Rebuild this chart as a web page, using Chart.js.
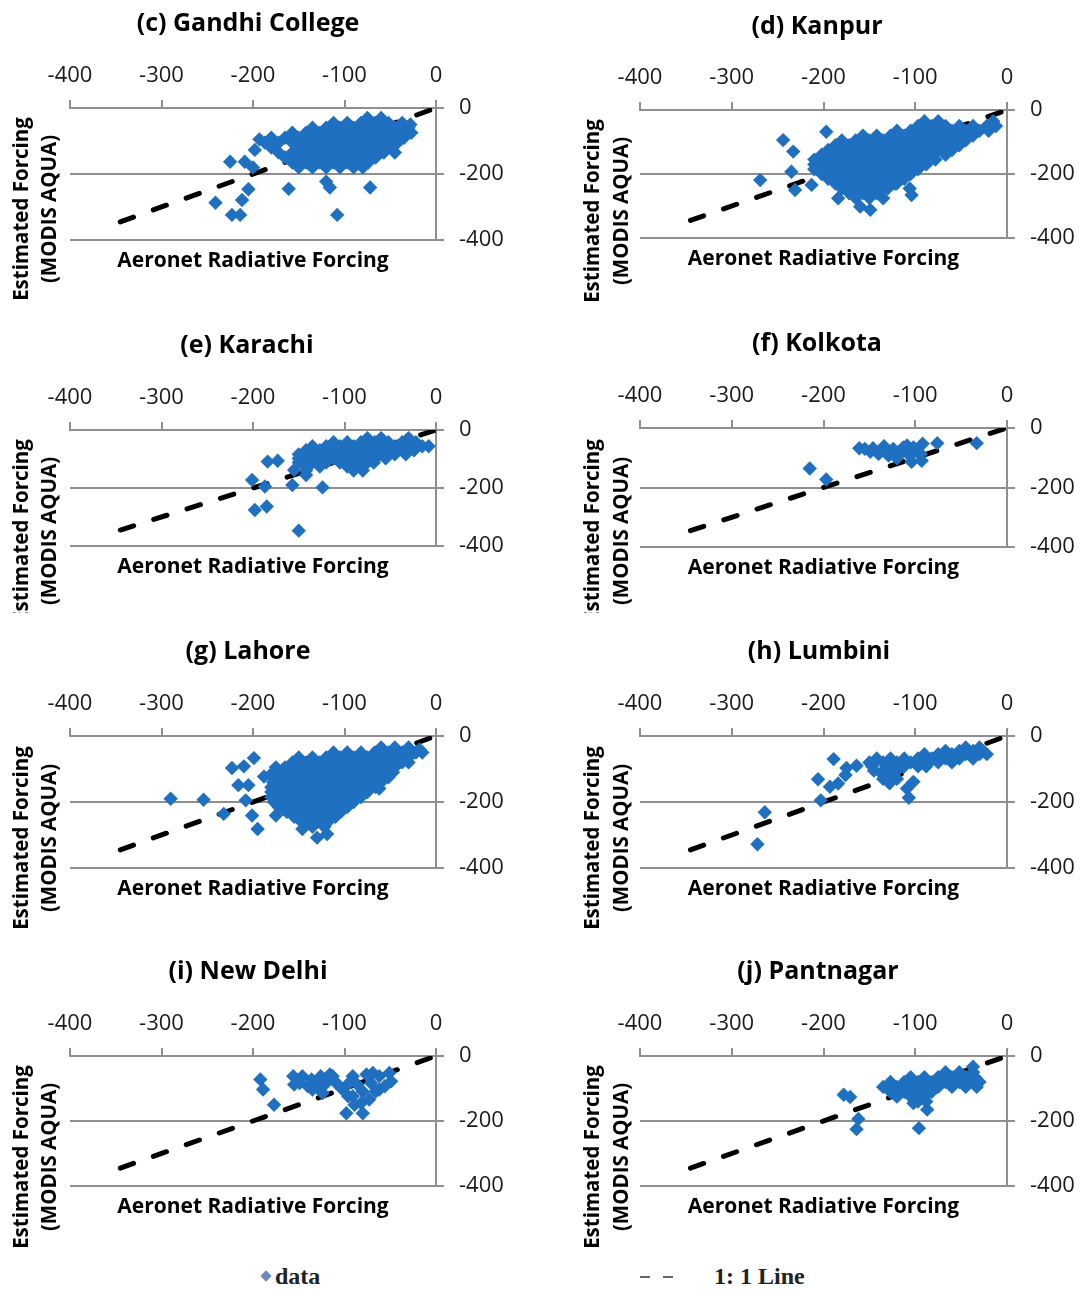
<!DOCTYPE html>
<html>
<head>
<meta charset="utf-8">
<title>Estimated vs Aeronet radiative forcing</title>
<script src="https://cdn.jsdelivr.net/npm/chart.js@4.4.1/dist/chart.umd.min.js"></script>
<style>
  html, body { margin: 0; padding: 0; background: #fff; }
  body { position: relative; width: 1085px; height: 1289px; overflow: hidden; }
  canvas.panel { position: absolute; }
  .legend { position: absolute; top: 1261px; font-family: "Liberation Serif", serif; font-weight: bold;
            font-size: 24px; color: #222; line-height: 30px; white-space: nowrap; }
  .legend .diamond { position: absolute; left: -13px; top: 11px; width: 8px; height: 8px;
                     background: #6d8cbc; transform: rotate(45deg); }
  .legend .dash { position: absolute; top: 15px; width: 10px; height: 2px; background: #666; }
</style>
</head>
<body>
<div class="legend" style="left:275px"><span class="diamond"></span>data</div>
<div class="legend" style="left:714px"><span class="dash" style="left:-74px"></span><span class="dash" style="left:-51px"></span>1: 1 Line</div>
<script>
// ---- axis ticks and labels ----
const xTickValues = [-400, -300, -200, -100, 0];
const yTickValues = [-400, -200, 0];
const xAxisTitle = 'Aeronet Radiative Forcing';
const yAxisTitle = ['Estimated Forcing', '(MODIS AQUA)'];

// 1:1 reference line (Aeronet = MODIS)
const oneToOneLine = [[-345, -345], [0, 0]];

// ---- [Aeronet forcing, MODIS AQUA forcing] pairs per site (W/m²) ----
const gandhiCollege = [
  [-75,-30],[-60,-30],
  [-112,-45],[-97,-45],[-82,-45],[-67,-45],[-52,-45],[-37,-45],
  [-135,-60],[-120,-60],[-105,-60],[-90,-60],[-75,-60],[-60,-60],[-45,-60],[-30,-60],
  [-157,-75],[-142,-75],[-127,-75],[-112,-75],[-97,-75],[-82,-75],[-67,-75],[-52,-75],[-37,-75],[-27,-75],
  [-180,-90],[-165,-90],[-150,-90],[-135,-90],[-120,-90],[-105,-90],[-90,-90],[-75,-90],[-60,-90],[-45,-90],[-35,-90],
  [-187,-105],[-172,-105],[-157,-105],[-142,-105],[-127,-105],[-112,-105],[-97,-105],[-82,-105],[-67,-105],[-52,-105],[-42,-105],
  [-180,-120],[-150,-120],[-135,-120],[-120,-120],[-105,-120],[-90,-120],[-75,-120],[-60,-120],[-48,-120],
  [-172,-135],[-157,-135],[-142,-135],[-127,-135],[-112,-135],[-97,-135],[-82,-135],[-67,-135],[-57,-135],
  [-165,-150],[-150,-150],[-135,-150],[-120,-150],[-105,-150],[-90,-150],[-75,-150],[-66,-150],
  [-157,-165],[-142,-165],[-127,-165],[-112,-165],[-97,-165],[-82,-165],[-74,-165],
  [-150,-180],[-135,-180],[-120,-180],[-105,-180],[-90,-180],[-80,-180],
  [-193,-95],[-198,-127],[-225,-163],[-209,-163],[-200,-180],[-205,-246],[-241,-287],[-212,-279],
  [-223,-324],[-214,-324],[-161,-245],[-120,-223],[-116,-241],[-72,-241],[-108,-324],[-45,-135],[-32,-77],[-28,-50]
];

const kanpur = [
  [-90,-35],[-75,-35],[-15,-35],
  [-97,-50],[-82,-50],[-67,-50],[-52,-50],[-37,-50],[-22,-50],[-12,-50],
  [-120,-65],[-105,-65],[-90,-65],[-75,-65],[-60,-65],[-45,-65],[-30,-65],[-20,-65],
  [-157,-80],[-142,-80],[-127,-80],[-112,-80],[-97,-80],[-82,-80],[-67,-80],[-52,-80],[-37,-80],
  [-180,-95],[-165,-95],[-150,-95],[-135,-95],[-120,-95],[-105,-95],[-90,-95],[-75,-95],[-60,-95],[-45,-95],
  [-187,-110],[-172,-110],[-157,-110],[-142,-110],[-127,-110],[-112,-110],[-97,-110],[-82,-110],[-67,-110],[-52,-110],
  [-195,-125],[-180,-125],[-165,-125],[-150,-125],[-135,-125],[-120,-125],[-105,-125],[-90,-125],[-75,-125],[-60,-125],
  [-202,-140],[-187,-140],[-172,-140],[-157,-140],[-142,-140],[-127,-140],[-112,-140],[-97,-140],[-82,-140],[-67,-140],
  [-210,-155],[-195,-155],[-180,-155],[-165,-155],[-150,-155],[-135,-155],[-120,-155],[-105,-155],[-90,-155],[-78,-155],
  [-210,-170],[-202,-170],[-187,-170],[-172,-170],[-157,-170],[-142,-170],[-127,-170],[-112,-170],[-97,-170],[-88,-170],
  [-210,-185],[-195,-185],[-180,-185],[-165,-185],[-150,-185],[-135,-185],[-120,-185],[-105,-185],[-97,-185],
  [-202,-200],[-187,-200],[-172,-200],[-157,-200],[-142,-200],[-127,-200],[-112,-200],[-105,-200],
  [-195,-215],[-180,-215],[-165,-215],[-150,-215],[-135,-215],[-120,-215],[-112,-215],
  [-187,-230],[-172,-230],[-157,-230],[-142,-230],[-127,-230],[-122,-230],
  [-180,-245],[-165,-245],[-150,-245],[-135,-245],[-130,-245],
  [-172,-260],[-157,-260],[-142,-260],
  [-165,-275],[-150,-275],
  [-244,-94],[-197,-68],[-233,-130],[-235,-193],[-269,-219],[-231,-250],[-213,-234],[-184,-276],
  [-135,-276],[-106,-245],[-104,-266],[-160,-302],[-149,-312],[-120,-229]
];

const karachi = [
  [-75,-28],[-60,-28],[-30,-28],
  [-112,-42],[-97,-42],[-82,-42],[-67,-42],[-52,-42],[-37,-42],[-22,-42],
  [-135,-56],[-120,-56],[-105,-56],[-90,-56],[-75,-56],[-60,-56],[-45,-56],[-30,-56],[-15,-56],[-8,-56],
  [-142,-70],[-127,-70],[-112,-70],[-97,-70],[-82,-70],[-67,-70],[-52,-70],[-37,-70],[-24,-70],
  [-150,-84],[-135,-84],[-120,-84],[-105,-84],[-90,-84],[-75,-84],[-60,-84],[-45,-84],[-33,-84],
  [-150,-98],[-142,-98],[-127,-98],[-112,-98],[-97,-98],[-82,-98],[-67,-98],[-55,-98],
  [-150,-112],[-135,-112],[-120,-112],[-105,-112],[-90,-112],[-75,-112],[-68,-112],
  [-142,-126],[-127,-126],[-97,-126],[-82,-126],
  [-142,-140],[-90,-140],[-80,-140],
  [-184,-109],[-173,-106],[-201,-172],[-187,-195],[-157,-190],[-124,-198],[-198,-276],[-185,-264],
  [-150,-347],[-155,-138],[-142,-155]
];

const kolkota = [
  [-161,-68],[-149,-80],[-140,-87],[-134,-61],[-124,-70],[-120,-102],[-115,-82],[-109,-59],
  [-106,-93],[-104,-114],[-98,-80],[-92,-53],[-93,-110],[-76,-51],[-33,-51],[-215,-136],
  [-197,-173],[-129,-93],[-155,-70],[-146,-68],[-113,-65],[-102,-65],[-94,-87]
];

const lahore = [
  [-60,-35],[-45,-35],[-30,-35],
  [-112,-50],[-97,-50],[-82,-50],[-67,-50],[-52,-50],[-37,-50],[-22,-50],[-15,-50],
  [-150,-65],[-135,-65],[-120,-65],[-105,-65],[-90,-65],[-75,-65],[-60,-65],[-45,-65],[-30,-65],
  [-157,-80],[-142,-80],[-127,-80],[-112,-80],[-97,-80],[-82,-80],[-67,-80],[-52,-80],[-37,-80],[-30,-80],
  [-175,-95],[-165,-95],[-150,-95],[-135,-95],[-120,-95],[-105,-95],[-90,-95],[-75,-95],[-60,-95],[-45,-95],
  [-178,-110],[-172,-110],[-157,-110],[-142,-110],[-127,-110],[-112,-110],[-97,-110],[-82,-110],[-67,-110],[-52,-110],[-47,-110],
  [-178,-125],[-165,-125],[-150,-125],[-135,-125],[-120,-125],[-105,-125],[-90,-125],[-75,-125],[-60,-125],[-52,-125],
  [-178,-140],[-172,-140],[-157,-140],[-142,-140],[-127,-140],[-112,-140],[-97,-140],[-82,-140],[-67,-140],[-60,-140],
  [-180,-155],[-165,-155],[-150,-155],[-135,-155],[-120,-155],[-105,-155],[-90,-155],[-75,-155],[-66,-155],
  [-180,-170],[-172,-170],[-157,-170],[-142,-170],[-127,-170],[-112,-170],[-97,-170],[-82,-170],[-75,-170],
  [-180,-185],[-165,-185],[-150,-185],[-135,-185],[-120,-185],[-105,-185],[-90,-185],[-82,-185],
  [-177,-200],[-172,-200],[-157,-200],[-142,-200],[-127,-200],[-112,-200],[-97,-200],[-90,-200],
  [-172,-215],[-165,-215],[-150,-215],[-135,-215],[-120,-215],[-105,-215],[-97,-215],
  [-163,-230],[-157,-230],[-142,-230],[-127,-230],[-112,-230],[-104,-230],
  [-155,-245],[-150,-245],[-135,-245],[-120,-245],[-110,-245],
  [-147,-260],[-142,-260],[-127,-260],[-118,-260],
  [-135,-275],[-122,-275],
  [-223,-97],[-210,-92],[-199,-67],[-216,-149],[-205,-149],[-188,-123],[-290,-190],[-254,-193],
  [-208,-195],[-232,-236],[-201,-241],[-195,-282],[-175,-241],[-146,-282],[-130,-308],[-119,-297],
  [-62,-159],[-166,-221],[-18,-41]
];

const lumbini = [
  [-45,-35],[-30,-35],
  [-67,-45],[-52,-45],[-37,-45],[-27,-45],
  [-90,-55],[-75,-55],[-60,-55],[-45,-55],[-30,-55],[-22,-55],
  [-142,-68],[-127,-68],[-112,-68],[-97,-68],[-82,-68],[-67,-68],[-52,-68],[-37,-68],
  [-150,-80],[-135,-80],[-120,-80],[-105,-80],[-90,-80],[-75,-80],[-60,-80],
  [-147,-92],[-127,-92],[-112,-92],[-97,-92],[-88,-92],
  [-145,-105],[-135,-105],[-120,-105],
  [-135,-118],[-127,-118],
  [-135,-130],[-120,-130],[-128,-143],
  [-272,-328],[-264,-231],[-206,-131],[-203,-195],[-189,-70],[-193,-154],[-184,-144],[-175,-97],
  [-176,-118],[-164,-90],[-107,-187],[-102,-139],[-109,-159]
];

const newDelhi = [
  [-192,-72],[-189,-103],[-177,-150],[-156,-62],[-155,-88],[-146,-62],[-136,-72],[-135,-103],
  [-126,-62],[-120,-83],[-116,-57],[-124,-114],[-109,-83],[-102,-103],[-96,-124],[-98,-176],
  [-91,-62],[-86,-88],[-82,-145],[-80,-176],[-76,-57],[-71,-83],[-66,-109],[-69,-52],
  [-62,-62],[-56,-93],[-51,-52],[-49,-78],[-91,-124],[-140,-93],[-129,-88],[-113,-62],
  [-149,-83],[-95,-83],[-80,-109],[-62,-103],[-73,-134],[-89,-150]
];

const pantnagar = [
  [-37,-33],
  [-67,-50],[-52,-50],[-37,-50],
  [-105,-65],[-90,-65],[-75,-65],[-60,-65],[-45,-65],[-35,-65],
  [-127,-80],[-112,-80],[-97,-80],[-82,-80],[-67,-80],[-52,-80],[-37,-80],[-30,-80],
  [-135,-95],[-120,-95],[-105,-95],[-90,-95],[-75,-95],[-60,-95],[-45,-95],[-33,-95],
  [-127,-110],[-112,-110],[-97,-110],[-82,-110],
  [-120,-125],[-105,-125],[-90,-125],
  [-97,-140],[-88,-140],
  [-178,-119],[-171,-126],[-162,-194],[-164,-225],[-96,-222],[-87,-165],[-102,-145]
];

// ---- page layout of the eight panels (page pixels) ----
const panels = [
  { title: '(c) Gandhi College', data: gandhiCollege,
    box: { left: 0, top: 0, width: 540, height: 315 }, area: { left: 70, top: 108, right: 436, bottom: 240 },
    titlePos: [248, 24], yTitleX: [22, 50], yTitleY: 209 },
  { title: '(d) Kanpur', data: kanpur,
    box: { left: 560, top: 0, width: 525, height: 315 }, area: { left: 640, top: 110, right: 1007, bottom: 238 },
    titlePos: [817, 27], yTitleX: [593, 622], yTitleY: 211 },
  { title: '(e) Karachi', data: karachi,
    box: { left: 0, top: 320, width: 540, height: 293 }, area: { left: 70, top: 430, right: 436, bottom: 546 },
    titlePos: [247, 346], yTitleX: [22, 50], yTitleY: 531 },
  { title: '(f) Kolkota', data: kolkota,
    box: { left: 560, top: 320, width: 525, height: 293 }, area: { left: 640, top: 428, right: 1007, bottom: 547 },
    titlePos: [817, 344], yTitleX: [593, 622], yTitleY: 531 },
  { title: '(g) Lahore', data: lahore,
    box: { left: 0, top: 630, width: 540, height: 310 }, area: { left: 70, top: 736, right: 436, bottom: 868 },
    titlePos: [248, 652], yTitleX: [22, 50], yTitleY: 838 },
  { title: '(h) Lumbini', data: lumbini,
    box: { left: 560, top: 630, width: 525, height: 310 }, area: { left: 640, top: 736, right: 1007, bottom: 868 },
    titlePos: [819, 652], yTitleX: [593, 622], yTitleY: 838 },
  { title: '(i) New Delhi', data: newDelhi,
    box: { left: 0, top: 950, width: 540, height: 310 }, area: { left: 70, top: 1056, right: 436, bottom: 1186 },
    titlePos: [248, 972], yTitleX: [22, 50], yTitleY: 1157 },
  { title: '(j) Pantnagar', data: pantnagar,
    box: { left: 560, top: 950, width: 525, height: 310 }, area: { left: 640, top: 1056, right: 1007, bottom: 1186 },
    titlePos: [818, 972], yTitleX: [593, 622], yTitleY: 1157 }
];

const gridColor = '#8f8f8f';
const tickColor = '#1a1a1a';
const markerColor = '#1f70c1';
const sansFamily = '"Open Sans", "Liberation Sans", sans-serif';

// Panel title, bottom axis caption and rotated left caption
const panelText = {
  id: 'panelText',
  afterDraw(chart, args, o) {
    const { ctx, chartArea } = chart;
    ctx.save();
    ctx.fillStyle = '#000';
    ctx.textAlign = 'center';
    ctx.textBaseline = 'middle';
    ctx.font = 'bold 25px ' + sansFamily;
    ctx.fillText(o.title, o.titleX, o.titleY);
    ctx.font = 'bold 21px ' + sansFamily;
    ctx.fillText(xAxisTitle, (chartArea.left + chartArea.right) / 2, chartArea.bottom + 21);
    ctx.font = 'bold 20.5px ' + sansFamily;
    yAxisTitle.forEach((line, i) => {
      ctx.save();
      ctx.translate(o.yTitleX[i], o.yTitleY);
      ctx.rotate(-Math.PI / 2);
      ctx.fillText(line, 0, 0);
      ctx.restore();
    });
    ctx.restore();
  }
};

function toPoints(pairs) {
  return pairs.map(([x, y]) => ({ x, y }));
}

function buildPanel(p) {
  const canvas = document.createElement('canvas');
  canvas.className = 'panel';
  canvas.width = p.box.width;
  canvas.height = p.box.height;
  canvas.style.left = p.box.left + 'px';
  canvas.style.top = p.box.top + 'px';
  canvas.style.width = p.box.width + 'px';
  canvas.style.height = p.box.height + 'px';
  document.body.appendChild(canvas);

  const padLeft = p.area.left - p.box.left;
  const topAxisHeight = p.area.top - p.box.top;
  const rightAxisWidth = p.box.left + p.box.width - p.area.right;
  const padBottom = p.box.top + p.box.height - p.area.bottom;
  const tickFont = { family: sansFamily, size: 22 };

  new Chart(canvas, {
    type: 'scatter',
    data: {
      datasets: [
        // markers are drawn above the 1:1 line
        { label: 'data', data: toPoints(p.data), pointStyle: 'rectRot', pointRadius: 7.2,
          backgroundColor: markerColor, borderColor: markerColor, borderWidth: 0, order: 0 },
        { label: '1: 1 Line', data: toPoints(oneToOneLine), showLine: true, pointRadius: 0,
          borderColor: '#000', borderWidth: 5, borderDash: [14, 21], borderCapStyle: 'round',
          fill: false, order: 1 }
      ]
    },
    options: {
      responsive: false,
      animation: false,
      events: [],
      devicePixelRatio: 1,
      layout: { padding: { left: padLeft, top: 0, right: 0, bottom: padBottom } },
      plugins: {
        legend: { display: false },
        tooltip: { enabled: false },
        panelText: {
          title: p.title,
          titleX: p.titlePos[0] - p.box.left, titleY: p.titlePos[1] - p.box.top,
          yTitleX: p.yTitleX.map(v => v - p.box.left), yTitleY: p.yTitleY - p.box.top
        }
      },
      scales: {
        x: {
          type: 'linear', position: 'top', min: -400, max: 0,
          afterBuildTicks: s => { s.ticks = xTickValues.map(v => ({ value: v })); },
          afterFit: s => { s.height = topAxisHeight; },
          grid: { drawOnChartArea: false, drawTicks: true, tickLength: 8, color: gridColor, lineWidth: 2 },
          border: { display: true, color: gridColor, width: 2 },
          ticks: { color: tickColor, font: tickFont, padding: 11, maxRotation: 0, autoSkip: false }
        },
        y: {
          type: 'linear', position: 'right', min: -400, max: 0,
          afterBuildTicks: s => { s.ticks = yTickValues.map(v => ({ value: v })); },
          afterFit: s => { s.width = rightAxisWidth; },
          grid: { drawOnChartArea: true, drawTicks: true, tickLength: 8, color: gridColor, lineWidth: 2 },
          border: { display: true, color: gridColor, width: 2 },
          ticks: { color: tickColor, font: tickFont, padding: 15, autoSkip: false }
        }
      }
    },
    plugins: [panelText]
  });
}

const fontLoads = ['22px "Open Sans"', 'bold 22px "Open Sans"'].map(f => document.fonts.load(f).catch(() => null));
Promise.all(fontLoads).then(() => panels.forEach(buildPanel));
</script>
</body>
</html>
